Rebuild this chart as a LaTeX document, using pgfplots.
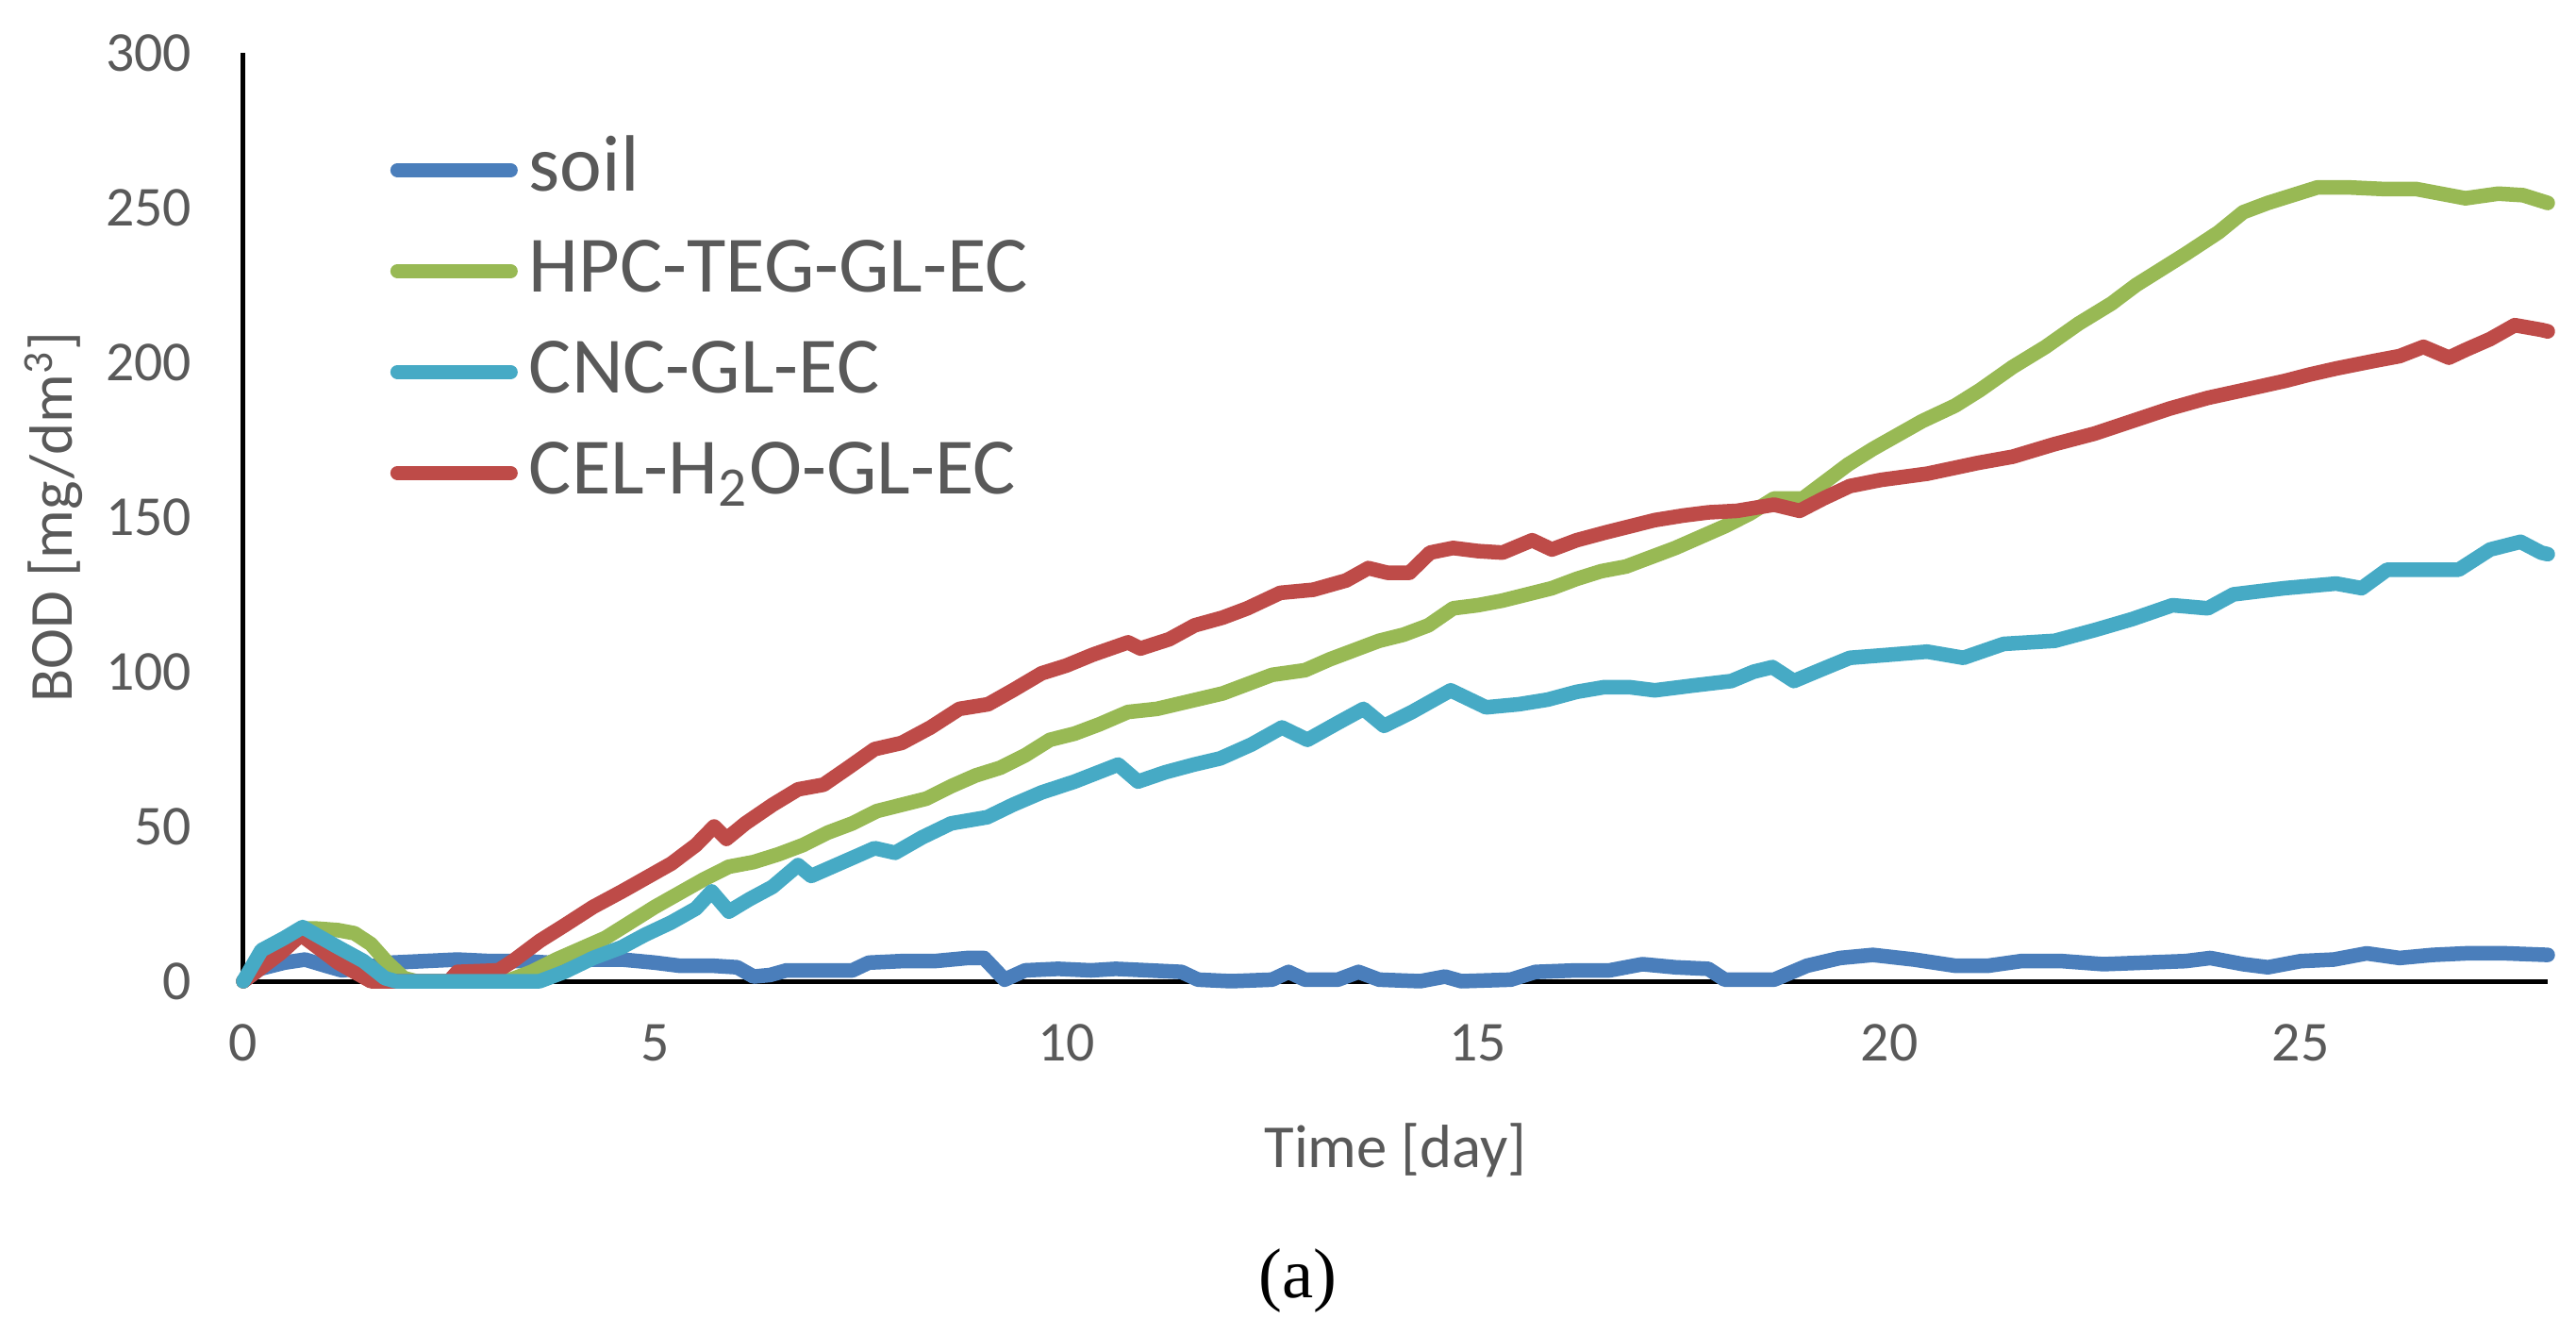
\documentclass[border=0pt]{standalone}
\usepackage{fontspec}
\setmainfont{Carlito}
\newfontfamily\capfont{Liberation Serif}
\usepackage{pgfplots}
\pgfplotsset{compat=1.18}
\definecolor{soilc}{HTML}{4A7EBB}
\definecolor{hpcc}{HTML}{98B954}
\definecolor{cncc}{HTML}{46AAC5}
\definecolor{celc}{HTML}{BE4B48}
\definecolor{txtg}{HTML}{595959}
\begin{document}
\begin{tikzpicture}
\begin{axis}[name=ax, at={(0,0)}, anchor=south west,
  scale only axis, width=488.6bp, height=196.8bp,
  xmin=0, xmax=28, ymin=0, ymax=300,
  xtick={0,5,10,15,20,25}, ytick={0,50,100,150,200,250,300},
  axis x line*=bottom, axis y line*=left,
  axis line style={black, line width=1bp},
  major tick length=0pt,
  /pgf/number format/assume math mode=true,
  tick label style={font=\fontsize{12}{14}\selectfont, text=txtg, inner sep=0pt},
  xticklabel style={yshift=-9bp},
  yticklabel style={xshift=-10.8bp},
  xlabel={Time [day]},
  ylabel={BOD [mg/dm\textsuperscript{3}]},
  xlabel style={at={([yshift=-35.8bp]axis description cs:0.5,0)}, anchor=center, font=\fontsize{13}{15}\selectfont, text=txtg},
  ylabel style={at={([xshift=-40.2bp]axis description cs:0,0.5)}, anchor=center, font=\fontsize{13}{15}\selectfont, text=txtg},
  clip=false,
  legend cell align=left,
  legend image code/.code={\path[draw=none, fill=none] (0bp,3.6bp) -- (29.4bp,3.6bp);\draw[#1, line width=3bp, line cap=round] (1.5bp,3.6bp) -- (25.5bp,3.6bp);},
  legend style={draw=none, fill=none, anchor=north west,
    at={([yshift=-2.8bp]axis description cs:0.0634,0.925)},
    font=\fontsize{17}{19}\selectfont, text=txtg,
    row sep=0pt, inner sep=0pt,
    nodes={inner sep=0pt, text height=11.6bp, text depth=9.8bp},
    column sep=0pt},
  every axis plot/.append style={line width=3.1bp, line join=round, line cap=round},
]
\addlegendimage{soilc}
\addlegendentry{soil}
\addlegendimage{hpcc}
\addlegendentry{HPC-TEG-GL-EC}
\addlegendimage{cncc}
\addlegendentry{CNC-GL-EC}
\addlegendimage{celc}
\addlegendentry{CEL-H\textsubscript{2}O-GL-EC}

% soil
\addplot[soilc, forget plot] coordinates {
(0,0) (0.2,4) (0.5,6) (0.75,7) (1.0,5) (1.2,3.5) (1.5,4.5) (1.8,6) (2.2,6.5) (2.6,7) (3.0,6.5) (3.4,6.5) (3.7,6) (4.1,7) (4.6,7) (5.0,6) (5.3,5) (5.7,5) (6.0,4.5) (6.2,1.5) (6.4,2) (6.6,3.5) (7.0,3.5) (7.4,3.5) (7.6,6) (8.0,6.5) (8.4,6.5) (8.8,7.5) (9.0,7.5) (9.25,0.5) (9.5,3.5) (9.9,4) (10.3,3.5) (10.6,4) (11.0,3.5) (11.4,3) (11.6,0.5) (12.0,0) (12.5,0.5) (12.7,3) (12.9,0.5) (13.3,0.5) (13.55,3) (13.8,0.5) (14.3,0) (14.6,1.5) (14.8,0) (15.4,0.5) (15.7,3) (16.2,3.5) (16.6,3.5) (17.0,5.5) (17.4,4.5) (17.8,4) (18.0,0.5) (18.6,0.5) (19.0,5) (19.4,7.5) (19.8,8.5) (20.3,7) (20.8,5) (21.2,5) (21.6,6.5) (22.1,6.5) (22.6,5.5) (23.1,6) (23.6,6.5) (23.9,7.5) (24.3,5.5) (24.6,4.5) (25.0,6.5) (25.4,7) (25.8,9) (26.2,7.5) (26.6,8.5) (27.0,9) (27.5,9) (28,8.5)
};
% HPC-TEG-GL-EC
\addplot[hpcc, forget plot] coordinates {
(0,0) (0.2,5) (0.45,10) (0.7,17) (0.9,17) (1.15,16.5) (1.35,15.5) (1.55,12) (1.75,6) (1.95,1) (2.1,0) (3.2,0) (3.5,3) (3.8,7) (4.1,10.5) (4.4,14) (4.7,19) (5.0,24) (5.3,28.5) (5.6,33) (5.9,37) (6.2,38.5) (6.5,41) (6.8,44) (7.1,48) (7.4,51) (7.7,55) (8.0,57) (8.3,59) (8.6,63) (8.9,66.5) (9.2,69) (9.5,73) (9.8,78) (10.1,80) (10.4,83) (10.75,87) (11.1,88) (11.5,90.5) (11.9,93) (12.2,96) (12.5,99) (12.9,100.5) (13.2,104) (13.5,107) (13.8,110) (14.1,112) (14.4,115) (14.7,120.5) (15.0,121.5) (15.3,123) (15.6,125) (15.9,127) (16.2,130) (16.5,132.5) (16.8,134) (17.1,137) (17.4,140) (17.7,143.5) (18.0,147) (18.3,151) (18.6,156) (18.95,156) (19.2,161) (19.5,167) (19.8,172) (20.1,176.5) (20.4,181) (20.8,186) (21.1,191) (21.5,198.5) (21.9,205) (22.3,212.5) (22.7,219) (23.0,225) (23.3,230) (23.6,235) (24.0,242) (24.3,248.5) (24.6,251.5) (24.9,254) (25.2,256.5) (25.6,256.5) (26.0,256) (26.4,256) (26.7,254.5) (27.0,253) (27.4,254.5) (27.7,254) (28.0,251.5)
};
% CEL-H2O-GL-EC
\addplot[celc, forget plot] coordinates {
(0,0) (0.2,4) (0.45,9) (0.7,15) (0.9,11) (1.15,6) (1.35,3) (1.55,0) (2.5,0) (2.6,3) (3.1,3.5) (3.3,7) (3.6,13) (3.9,18) (4.25,24) (4.6,29) (4.9,33.5) (5.2,38) (5.5,44) (5.72,50) (5.87,46) (6.1,51) (6.43,57) (6.74,62) (7.05,63.5) (7.35,69) (7.67,75) (8.0,77) (8.35,82) (8.7,88) (9.05,89.5) (9.35,94) (9.7,99.5) (10.0,102) (10.32,105.5) (10.75,109.5) (10.9,107.5) (11.25,110.5) (11.56,115) (11.9,117.5) (12.2,120.5) (12.6,125.5) (13.0,126.5) (13.4,129.5) (13.67,133.5) (13.9,132) (14.17,132) (14.42,138.5) (14.7,140) (15.0,139) (15.3,138.5) (15.66,142.5) (15.9,139.5) (16.2,142.5) (16.55,145) (16.85,147) (17.15,149) (17.5,150.5) (17.8,151.5) (18.15,152) (18.6,154) (18.91,152) (19.2,156) (19.52,160) (19.9,162) (20.46,164) (21.08,167.5) (21.5,169.5) (22.0,173.5) (22.5,177) (22.95,181) (23.4,185) (23.87,188.5) (24.3,191) (24.81,194) (25.1,196) (25.43,198) (25.9,200.5) (26.2,202) (26.49,205) (26.8,201.5) (27.0,204) (27.3,207.5) (27.6,212) (27.92,210.5) (28,210)
};
% CNC-GL-EC
\addplot[cncc, forget plot] coordinates {
(0,0) (0.22,10) (0.5,14) (0.72,17.5) (0.95,14) (1.15,11) (1.46,6.5) (1.72,1) (1.85,0) (3.6,0) (3.9,3) (4.25,7.5) (4.6,11) (4.88,15) (5.2,19) (5.5,23.5) (5.69,29) (5.9,22.5) (6.15,26.5) (6.43,30.5) (6.74,37.5) (6.9,34) (7.2,37.5) (7.5,41) (7.67,43) (7.92,41.5) (8.25,46.5) (8.6,51) (9.04,53) (9.35,57) (9.7,61) (10.1,64.5) (10.63,70) (10.87,64.5) (11.2,67.5) (11.55,70) (11.87,72) (12.25,76.5) (12.62,82) (12.93,78) (13.3,83.5) (13.61,88) (13.86,82.5) (14.2,87) (14.67,94) (15.1,88.5) (15.5,89.5) (15.85,91) (16.2,93.5) (16.53,95) (16.85,95) (17.15,94) (17.6,95.5) (18.08,97) (18.35,100) (18.58,101.5) (18.84,97) (19.2,101) (19.52,104.5) (20.0,105.5) (20.46,106.5) (20.9,104.5) (21.39,109) (22.01,110) (22.5,113.5) (22.95,117) (23.44,121.5) (23.87,120.5) (24.18,125) (24.8,127) (25.43,128.5) (25.74,127) (26.05,133) (26.5,133) (26.92,133) (27.3,139.5) (27.67,142) (27.92,138.5) (28,138)
};
\end{axis}
\node[font=\capfont\fontsize{15}{18}\selectfont, text=black, anchor=center] at ([shift={(223.6bp,-63.6bp)}]ax.south west) {(a)};
\pgfresetboundingbox
\path[use as bounding box] ([shift={(-51.6bp,-75bp)}]ax.south west) rectangle ([shift={(6bp,11.2bp)}]ax.north east);
\end{tikzpicture}
\end{document}
